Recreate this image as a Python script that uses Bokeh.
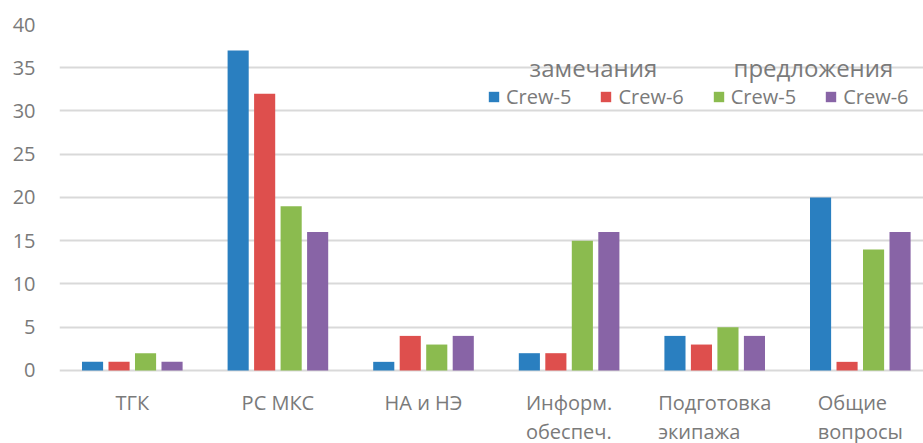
from bokeh.plotting import figure
from bokeh.models import ColumnDataSource, FixedTicker, Legend, LegendItem, Label, LabelSet, Range1d
from bokeh.core.properties import value
from bokeh.embed import file_html
from bokeh.resources import INLINE
import numpy as np

categories = ["ТГК", "РС МКС", "НА и НЭ", "Информ.\nобеспеч.", "Подготовка\nэкипажа", "Общие\nвопросы"]
remarks_crew5 = [1, 37, 1, 2, 4, 20]
remarks_crew6 = [1, 32, 4, 2, 3, 1]
proposals_crew5 = [2, 19, 3, 15, 5, 14]
proposals_crew6 = [1, 16, 4, 16, 4, 16]
series_labels = ["Crew-5", "Crew-6", "Crew-5", "Crew-6"]
group_labels = ["замечания", "предложения"]
y_ticks = [0, 5, 10, 15, 20, 25, 30, 35, 40]

colors = ["#2a7fc0", "#de4f4d", "#8bbb4f", "#8864a6"]
FONT = "Open Sans"
GREY = "#7a7a7a"

# frame spans the full height below the top margin; the band under 0 holds the category names
p = figure(width=923, height=443, output_backend="svg", toolbar_location=None,
           x_range=Range1d(-0.5, 5.434), y_range=Range1d(-8.44, 40),
           min_border_left=59, min_border_right=0, min_border_top=24, min_border_bottom=0)
p.outline_line_color = None
p.background_fill_color = "white"
p.border_fill_color = "white"

idx = np.arange(len(categories))
pitch = 0.182
bw = 0.145
all_series = [remarks_crew5, remarks_crew6, proposals_crew5, proposals_crew6]
renderers = []
for k, (vals, c) in enumerate(zip(all_series, colors)):
    src = ColumnDataSource(dict(x=idx + (k - 1.5) * pitch, top=vals))
    r = p.vbar(x="x", top="top", width=bw, source=src, fill_color=c, line_color=None)
    renderers.append(r)

p.xaxis.visible = False

cat_src = ColumnDataSource(dict(x=idx, y=np.zeros(len(categories)), text=categories))
p.add_layout(LabelSet(x="x", y="y", text="text", source=cat_src, y_offset=-19,
                      text_align="center", text_baseline="top",
                      text_font=value(FONT), text_font_size=value("20px"), text_color=value(GREY),
                      text_line_height=1.05))

p.yaxis.ticker = FixedTicker(ticks=y_ticks)
p.yaxis.major_tick_out = 0
p.yaxis.major_tick_in = 0
p.yaxis.major_tick_line_color = None
p.yaxis.minor_tick_line_color = None
p.yaxis.axis_line_color = None
p.yaxis.major_label_text_font = FONT
p.yaxis.major_label_text_font_size = "20px"
p.yaxis.major_label_text_color = GREY
p.yaxis.major_label_standoff = 24

p.xgrid.grid_line_color = None
p.ygrid.ticker = FixedTicker(ticks=y_ticks)
p.ygrid.grid_line_color = "#d9d9d9"
p.ygrid.grid_line_width = 2

legend = Legend(items=[LegendItem(label=series_labels[k], renderers=[renderers[k]]) for k in range(4)],
                orientation="horizontal", location=(428, 333),
                glyph_width=13, glyph_height=13, label_standoff=6, spacing=28,
                padding=0, margin=0, border_line_color=None, background_fill_alpha=0,
                label_text_font=FONT, label_text_font_size="20px", label_text_color=GREY)
p.add_layout(legend)

for lbl, xc in zip(group_labels, [3.167, 4.678]):
    p.add_layout(Label(x=xc, y=35.0, text=lbl, text_align="center", text_baseline="alphabetic",
                       text_font=FONT, text_font_size="24px", text_color=GREY))

open("out.html", "w").write(file_html(p, INLINE))
